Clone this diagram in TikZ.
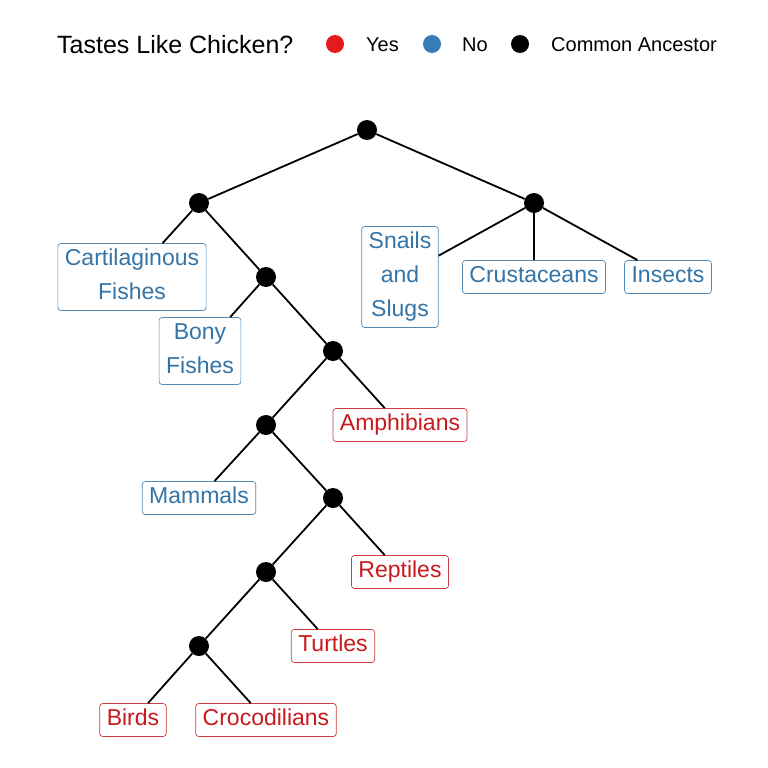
\documentclass[tikz,border=0pt]{standalone}
\usepackage{fontspec}
\setmainfont{Liberation Sans}
\definecolor{yesred}{HTML}{E41A1C}
\definecolor{nobl}{HTML}{377EB8}
\definecolor{yestxt}{HTML}{C8191D}
\definecolor{notxt}{HTML}{3474A6}
\newcommand{\lstr}{\rule[-6pt]{0pt}{23pt}}
\begin{document}
\begin{tikzpicture}[x=1pt,y=-1pt,
  anc/.style={circle,fill=black,inner sep=0pt,minimum size=20pt},
  leaf/.style={draw,rounded corners=3pt,line width=0.7pt,fill=white,inner xsep=7pt,inner ysep=5pt,
    align=center,font=\fontsize{23}{34}\selectfont},
  yesleaf/.style={leaf,draw=yestxt!85!white,text=yestxt},
  noleaf/.style={leaf,draw=notxt!85!white,text=notxt},
  edge/.style={line width=1.8pt,black},
  legdot/.style={circle,inner sep=0pt,minimum size=18pt}]
\useasboundingbox (0,0) rectangle (768,768);
% legend
\node[anchor=west,inner sep=0pt,font=\fontsize{25}{30}\selectfont] (ltitle) at (57,45) {Tastes Like Chicken?};
\node[legdot,fill=yesred] (ldyes) at (335,44) {};
\node[anchor=west,inner sep=0pt,font=\fontsize{20}{24}\selectfont] (lyes) at (366,45) {Yes};
\node[legdot,fill=nobl] (ldno) at (432,44) {};
\node[anchor=west,inner sep=0pt,font=\fontsize{20}{24}\selectfont] (lno) at (462,45) {No};
\node[legdot,fill=black] (ldca) at (520,44) {};
\node[anchor=west,inner sep=0pt,font=\fontsize{20}{24}\selectfont] (lca) at (551,45) {Common Ancestor};
% ancestors
\node[anc] (root) at (367,130) {};
\node[anc] (A) at (199,203) {};
\node[anc] (B) at (534,203) {};
\node[anc] (C) at (266,277) {};
\node[anc] (D) at (333,351) {};
\node[anc] (E) at (266,425) {};
\node[anc] (F) at (333,498) {};
\node[anc] (G) at (266,572) {};
\node[anc] (H) at (199,646) {};
% leaves
\node[noleaf] (cart) at (132,277) {\lstr Cartilaginous\\\lstr Fishes};
\node[noleaf] (bony) at (200,351) {\lstr Bony\\\lstr Fishes};
\node[yesleaf] (amph) at (400,425) {\lstr Amphibians};
\node[noleaf] (mamm) at (199,498) {\lstr Mammals};
\node[yesleaf] (rept) at (400,572) {\lstr Reptiles};
\node[yesleaf] (turt) at (333,646) {\lstr Turtles};
\node[yesleaf] (bird) at (133,720) {\lstr Birds};
\node[yesleaf] (croc) at (266,720) {\lstr Crocodilians};
\node[noleaf] (snail) at (400,277) {\lstr Snails\\\lstr and\\\lstr Slugs};
\node[noleaf] (crus) at (534,277) {\lstr Crustaceans};
\node[noleaf] (ins) at (668,277) {\lstr Insects};
% edges
\draw[edge] (root) -- (A);
\draw[edge] (root) -- (B);
\draw[edge] (A) -- (cart);
\draw[edge] (A) -- (C);
\draw[edge] (C) -- (bony);
\draw[edge] (C) -- (D);
\draw[edge] (D) -- (E);
\draw[edge] (D) -- (amph);
\draw[edge] (E) -- (mamm);
\draw[edge] (E) -- (F);
\draw[edge] (F) -- (G);
\draw[edge] (F) -- (rept);
\draw[edge] (G) -- (H);
\draw[edge] (G) -- (turt);
\draw[edge] (H) -- (bird);
\draw[edge] (H) -- (croc);
\draw[edge] (B) -- (snail);
\draw[edge] (B) -- (crus);
\draw[edge] (B) -- (ins);
\end{tikzpicture}
\end{document}
